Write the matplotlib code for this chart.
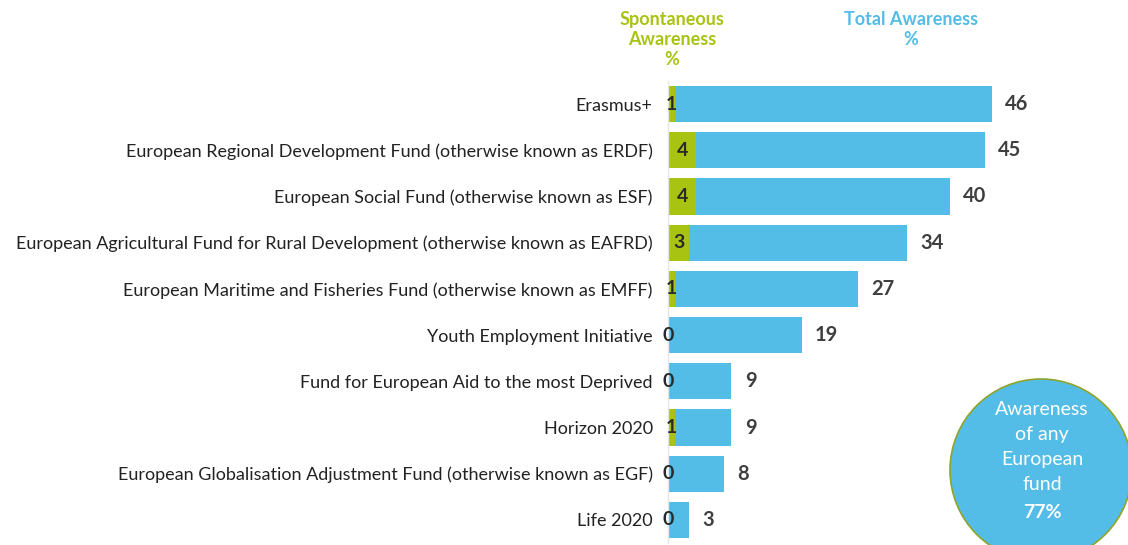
import matplotlib
matplotlib.use("Agg")
import matplotlib.pyplot as plt
from matplotlib.patches import Circle
import numpy as np

categories = [
    "Erasmus+",
    "European Regional Development Fund (otherwise known as ERDF)",
    "European Social Fund (otherwise known as ESF)",
    "European Agricultural Fund for Rural Development (otherwise known as EAFRD)",
    "European Maritime and Fisheries Fund (otherwise known as EMFF)",
    "Youth Employment Initiative",
    "Fund for European Aid to the most Deprived",
    "Horizon 2020",
    "European Globalisation Adjustment Fund (otherwise known as EGF)",
    "Life 2020",
]
spontaneous = [1, 4, 4, 3, 1, 0, 0, 1, 0, 0]
total = [46, 45, 40, 34, 27, 19, 9, 9, 8, 3]
any_fund = 77

BLUE = "#53BDE8"
GREEN = "#A9C312"
DARK = "#3F3F3F"
FONT = "Lato"

plt.rcParams['font.family'] = [FONT, 'DejaVu Sans']

W, H = 1128, 545
fig = plt.figure(figsize=(W / 100, H / 100), dpi=100)

x0 = 668
unit = 7.04
ax_left = x0 / W
ax_width = (W - x0) / W
xmax = (W - x0) / unit
ax = fig.add_axes([ax_left, 2 / H, ax_width, 462 / H])

y = np.arange(len(categories))
sp = np.array(spontaneous)
tot = np.array(total)
ax.barh(y, sp, height=0.78, color=GREEN, zorder=2)
ax.barh(y, tot - sp, left=sp, height=0.78, color=BLUE, zorder=2)

ax.set_xlim(0, xmax)
ax.set_ylim(len(categories) - 0.5, -0.5)
ax.set_yticks(y)
ax.set_yticklabels(categories, fontsize=13.0, color="#222222")
ax.tick_params(axis='y', length=0, pad=11)
ax.set_xticks([])
for s in ["top", "right", "bottom"]:
    ax.spines[s].set_visible(False)
ax.spines["left"].set_color("#E6E6E6")
ax.spines["left"].set_linewidth(1.0)

for yi, s, t in zip(y, sp, tot):
    ax.text(s / 2 if s > 0 else 0.0, yi, str(s), ha="center",
            va="center", fontsize=14, fontweight="bold", color="#2A2A2A", zorder=3)
    ax.text(t + 1.9, yi, str(t), ha="left", va="center", fontsize=14.5,
            fontweight="bold", color=DARK, zorder=3)

# headers
fig.text(672 / W, 1 - 11 / H, "Spontaneous\nAwareness\n%", ha="center", va="top",
         fontsize=13, fontweight="bold", color=GREEN, linespacing=1.2)
fig.text(911 / W, 1 - 11 / H, "Total Awareness\n%", ha="center", va="top",
         fontsize=13, fontweight="bold", color=BLUE, linespacing=1.2)

# circle overlay
ov = fig.add_axes([0, 0, 1, 1], zorder=5)
ov.set_xlim(0, W)
ov.set_ylim(H, 0)
ov.axis("off")
ov.add_patch(Circle((1041, 470), 91, facecolor=BLUE, edgecolor="#8FA52A", linewidth=1.2))
ov.text(1042, 447, "Awareness\nof any\nEuropean\nfund", ha="center", va="center",
        fontsize=14, color="white", linespacing=1.55)
ov.text(1042, 512, f"{any_fund}%", ha="center", va="center", fontsize=14,
        fontweight="bold", color="white")

fig.savefig("out.png", dpi=100)
